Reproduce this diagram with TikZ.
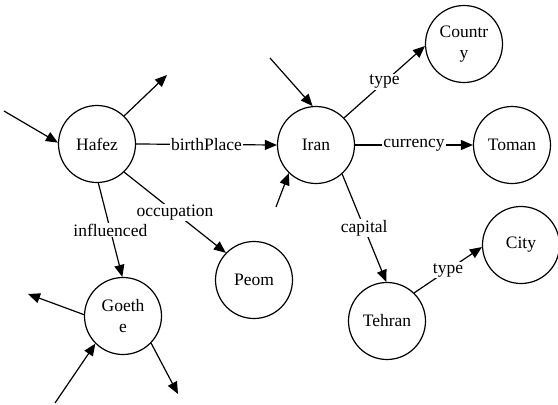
\documentclass[tikz,border=0pt]{standalone}
\usepackage{fontspec}
\setmainfont{Liberation Serif}
\usetikzlibrary{arrows.meta}
\begin{document}
\begin{tikzpicture}[x=1pt,y=-1pt,
  ent/.style={circle,draw,line width=1.2pt,minimum size=77pt,inner sep=0pt,align=center,font=\fontsize{17.5}{21}\selectfont},
  rel/.style={line width=1.2pt,-{Triangle[length=12pt,width=10pt]}},
  lbl/.style={fill=white,inner sep=1pt,font=\fontsize{17.5}{21}\selectfont}]
\useasboundingbox (0,0) rectangle (558,405);
% entities
\node[ent] (hafez)   at (97,144)  {Hafez};
\node[ent] (iran)    at (316,145) {Iran};
\node[ent] (country) at (464,44)  {Countr\\y};
\node[ent] (toman)   at (512,145) {Toman};
\node[ent] (city)    at (521,245) {City};
\node[ent] (tehran)  at (387,321) {Tehran};
\node[ent] (peom)    at (254,280) {Peom};
\node[ent] (goethe)  at (123,316) {Goeth\\e};
% free ends
\coordinate (h-in)  at (4,111);
\coordinate (h-out) at (167,75);
\coordinate (i-in1) at (270,58);
\coordinate (i-in2) at (276,207);
\coordinate (g-out1) at (28,294);
\coordinate (g-in)  at (55,403);
\coordinate (g-out2) at (178,394);
% relations
\draw[rel] (hafez.east) -- node[lbl] {birthPlace} (iran.west);
\draw[rel] (hafez.-88) -- node[lbl] {influenced} (goethe.91);
\draw[rel] (hafez.-46) -- node[lbl] {occupation} (peom.136);
\draw[rel] (iran.44) -- node[lbl] {type} (country.183);
\draw[rel] (iran.east) -- node[lbl] {currency} (toman.west);
\draw[rel] (iran.-48) -- node[lbl] {capital} (tehran.91);
\draw[rel] (tehran.46) -- node[lbl] {type} (city.183);
% dangling connectors
\draw[rel] (h-in) -- (hafez.178);
\draw[rel] (hafez.46) -- (h-out);
\draw[rel] (i-in1) -- (iran.95);
\draw[rel] (i-in2) -- (iran.-134);
\draw[rel] (goethe.178) -- (g-out1);
\draw[rel] (g-in) -- (goethe.-135);
\draw[rel] (goethe.-44) -- (g-out2);
\end{tikzpicture}
\end{document}
